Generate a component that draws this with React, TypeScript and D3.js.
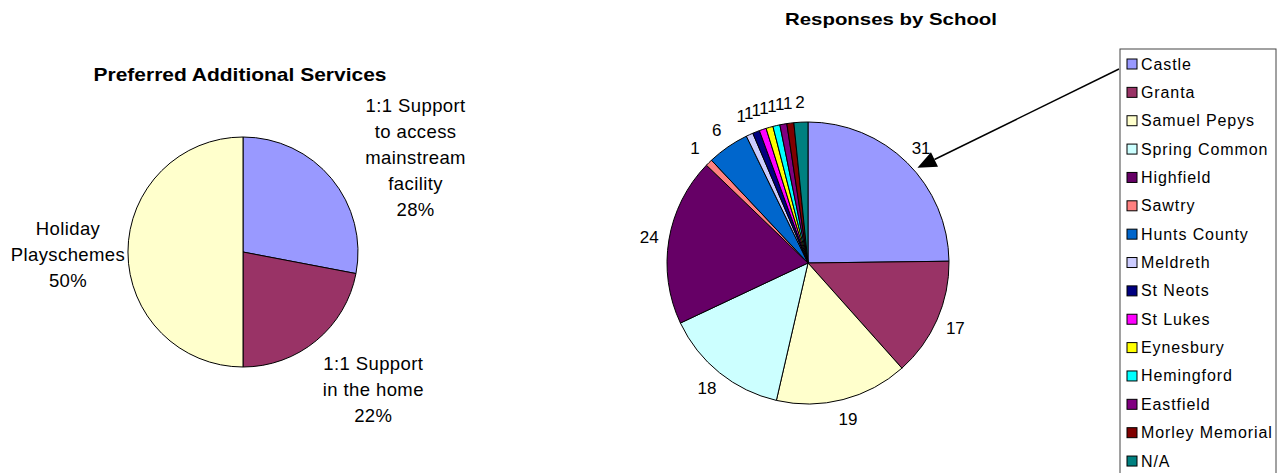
import React from "react";
import * as d3 from "d3";

const W = 1280;
const H = 473;

// Left chart data
const serviceLabels = [
  ["1:1 Support", "to access", "mainstream", "facility", "28%"],
  ["1:1 Support", "in the home", "22%"],
  ["Holiday", "Playschemes", "50%"],
];
const serviceValues = [28, 22, 50];
const serviceColors = ["#9999FF", "#993366", "#FFFFCC"];

// Right chart data
const schools = [
  "Castle", "Granta", "Samuel Pepys", "Spring Common", "Highfield", "Sawtry",
  "Hunts County", "Meldreth", "St Neots", "St Lukes", "Eynesbury", "Hemingford",
  "Eastfield", "Morley Memorial", "N/A",
];
const schoolValues = [31, 17, 19, 18, 24, 1, 6, 1, 1, 1, 1, 1, 1, 1, 2];
const schoolColors = [
  "#9999FF", "#993366", "#FFFFCC", "#CCFFFF", "#660066", "#FF8080",
  "#0066CC", "#CCCCFF", "#000080", "#FF00FF", "#FFFF00", "#00FFFF",
  "#800080", "#800000", "#008080",
];

// Layout
const L = { cx: 243, cy: 252, r: 115 };
const R = { cx: 808, cy: 263, r: 141, labelR: 161 };
// label block nudges (relative to outer arc point at mid angle): x center, first baseline
const leftLabelNudge = [
  { dx: 84, dy: -67 },
  { dx: 57, dy: 29.5 },
  { dx: -60, dy: -17 },
];
const FONT = "Arial, 'Liberation Sans', sans-serif";

export default function App() {
  const pie = d3.pie<number>().sort(null).value((d) => d);
  const leftArcs = pie(serviceValues);
  const rightArcs = pie(schoolValues);
  const arcL = d3.arc<d3.PieArcDatum<number>>().innerRadius(0).outerRadius(L.r);
  const arcR = d3.arc<d3.PieArcDatum<number>>().innerRadius(0).outerRadius(R.r);

  const polar = (cx: number, cy: number, rad: number, a: number) => [
    cx + rad * Math.sin(a),
    cy - rad * Math.cos(a),
  ];

  // legend
  const legX = 1120, legY = 49, legW = 156;
  const itemY0 = 64, itemStep = 28.36;

  // arrow
  const tipA = (49 * Math.PI) / 180;
  const [tx, ty] = polar(R.cx, R.cy, R.r + 4, tipA);
  const sx = legX - 1, sy = 69;
  const ang = Math.atan2(sy - ty, sx - tx);
  const aLen = 19, aHalf = 8;
  const bx = tx + aLen * Math.cos(ang), by = ty + aLen * Math.sin(ang);
  const p1 = [bx + aHalf * Math.sin(ang), by - aHalf * Math.cos(ang)];
  const p2 = [bx - aHalf * Math.sin(ang), by + aHalf * Math.cos(ang)];

  return (
    <svg
      width={W}
      height={H}
      style={{ position: "absolute", left: 0, top: 0, background: "#fff" }}
      fontFamily={FONT}
    >
      <rect width={W} height={H} fill="#fff" />
      {/* Left chart */}
      <text x={240} y={81} fontSize={19} fontWeight="bold" textAnchor="middle" textLength={293} lengthAdjust="spacingAndGlyphs">
        Preferred Additional Services
      </text>
      <g transform={`translate(${L.cx},${L.cy})`}>
        {leftArcs.map((a, i) => (
          <path key={i} d={arcL(a) || ""} fill={serviceColors[i]} stroke="#000" strokeWidth={1} />
        ))}
      </g>
      {leftArcs.map((a, i) => {
        const mid = (a.startAngle + a.endAngle) / 2;
        const [px, py] = polar(L.cx, L.cy, L.r, mid);
        const x = px + leftLabelNudge[i].dx;
        const y0 = py + leftLabelNudge[i].dy;
        return (
          <text key={i} x={x} y={y0} fontSize={18.5} textAnchor="middle" letterSpacing={0.4} fill="#000">
            {serviceLabels[i].map((t, j) => (
              <tspan key={j} x={x} y={y0 + j * 26.1}>{t}</tspan>
            ))}
          </text>
        );
      })}

      {/* Right chart */}
      <text x={891} y={25} fontSize={17} fontWeight="bold" textAnchor="middle" textLength={212} lengthAdjust="spacingAndGlyphs">
        Responses by School
      </text>
      <g transform={`translate(${R.cx},${R.cy})`}>
        {rightArcs.map((a, i) => (
          <path key={i} d={arcR(a) || ""} fill={schoolColors[i]} stroke="#000" strokeWidth={1} />
        ))}
      </g>
      {rightArcs.map((a, i) => {
        const mid = (a.startAngle + a.endAngle) / 2;
        const [x, y] = polar(R.cx, R.cy, R.labelR, mid);
        return (
          <text key={i} x={x} y={y} dy="0.35em" fontSize={17} textAnchor="middle" fill="#000">
            {schoolValues[i]}
          </text>
        );
      })}

      {/* Arrow */}
      <line x1={sx} y1={sy} x2={bx} y2={by} stroke="#000" strokeWidth={1.5} />
      <polygon points={`${tx},${ty} ${p1[0]},${p1[1]} ${p2[0]},${p2[1]}`} fill="#000" />

      {/* Legend */}
      <rect x={legX} y={legY} width={legW} height={H + 10 - legY} fill="#fff" stroke="#444" strokeWidth={1} />
      {schools.map((s, i) => {
        const cy = itemY0 + i * itemStep;
        return (
          <g key={s}>
            <rect x={legX + 7} y={cy - 5} width={10} height={10} fill={schoolColors[i]} stroke="#000" strokeWidth={1} />
            <text x={legX + 21} y={cy + 5.5} fontSize={16} letterSpacing={0.9} fill="#000">
              {s}
            </text>
          </g>
        );
      })}
    </svg>
  );
}
